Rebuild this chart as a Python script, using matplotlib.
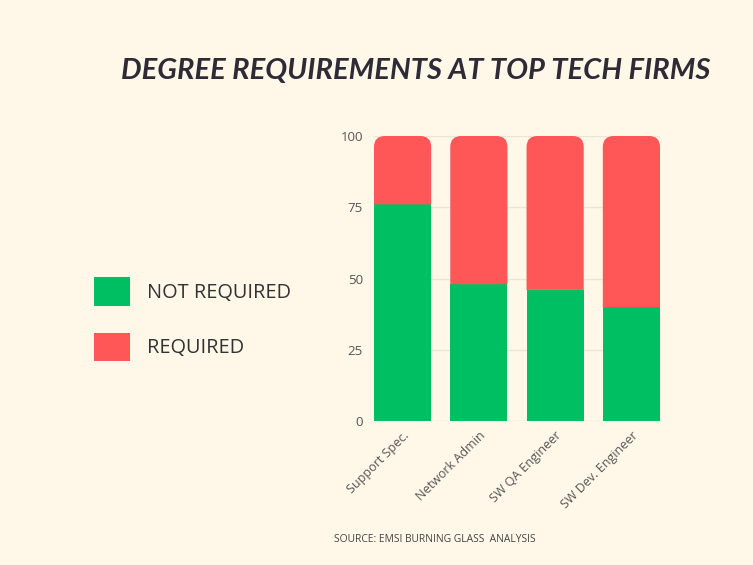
import matplotlib
matplotlib.use("Agg")
import matplotlib.pyplot as plt
from matplotlib.path import Path
from matplotlib.patches import PathPatch, Patch
import numpy as np

categories = ["Support Spec.", "Network Admin", "SW QA Engineer", "SW Dev. Engineer"]
not_required = [76, 48, 46, 40]
required = [24, 52, 54, 60]
yticks = [0, 25, 50, 75, 100]

BG = "#FFF7E8"
GREEN = "#00BF63"
RED = "#FF5757"
GRID = "#EDE5D3"
TXT = "#555555"

W, H = 753, 565
fig = plt.figure(figsize=(W / 100, H / 100), dpi=100, facecolor=BG)
ax = fig.add_axes([374 / W, 1 - 421 / H, (660 - 374) / W, (421 - 136) / H])
ax.set_facecolor(BG)

x = np.arange(len(categories))
bw = 0.75
g = ax.bar(x, not_required, width=bw, color=GREEN, zorder=3)
r = ax.bar(x, required, width=bw, bottom=not_required, color=RED, zorder=3)
ax.set_xlim(-0.375, len(categories) - 0.625)
ax.set_ylim(0, 100)

# rounded tops on red bars (drawn in display space from the bar geometry)
fig.canvas.draw()
rad = 11
for p in r.patches:
    p.set_visible(False)
    x0, y0 = p.get_x(), p.get_y()
    x1, y1 = x0 + p.get_width(), y0 + p.get_height()
    (dx0, dy0), (dx1, dy1) = ax.transData.transform([(x0, y0), (x1, y1)])
    verts = [(dx0, dy0), (dx0, dy1 - rad), (dx0, dy1), (dx0 + rad, dy1),
             (dx1 - rad, dy1), (dx1, dy1), (dx1, dy1 - rad), (dx1, dy0), (dx0, dy0)]
    codes = [Path.MOVETO, Path.LINETO, Path.CURVE3, Path.CURVE3,
             Path.LINETO, Path.CURVE3, Path.CURVE3, Path.LINETO, Path.CLOSEPOLY]
    patch = PathPatch(Path(verts, codes), facecolor=RED, edgecolor="none",
                      transform=None, zorder=3)
    fig.add_artist(patch)

ax.set_yticks(yticks)
ax.set_xticks(x)
ax.set_xticklabels(categories, rotation=45, ha="right", rotation_mode="anchor",
                   fontsize=9, color=TXT, family="Open Sans")
for t in ax.get_yticklabels():
    t.set_fontsize(9.5)
    t.set_color(TXT)
    t.set_family("Open Sans")
ax.tick_params(axis="both", length=0)
ax.tick_params(axis="y", pad=8)
ax.tick_params(axis="x", pad=6)
ax.grid(axis="y", color=GRID, linewidth=1, zorder=0)
for s in ax.spines.values():
    s.set_visible(False)

fig.text(416 / W, 1 - 71 / H, "DEGREE REQUIREMENTS AT TOP TECH FIRMS",
         ha="center", va="center", fontsize=21, fontweight="bold",
         fontstyle="italic", color="#2E2B36", family="Lato")

handles = [Patch(facecolor=GREEN), Patch(facecolor=RED)]
leg = fig.legend(handles=handles, labels=["NOT REQUIRED", "REQUIRED"],
                 loc="center left", bbox_to_anchor=(76 / W, 1 - 319 / H),
                 frameon=False, handlelength=1.8, handleheight=1.84,
                 handletextpad=0.85, labelspacing=1.35,
                 prop={"family": "Open Sans", "size": 14.4})
for t in leg.get_texts():
    t.set_color("#333333")

fig.text(435 / W, 1 - 540 / H, "SOURCE: EMSI BURNING GLASS  ANALYSIS",
         ha="center", va="center", fontsize=7.4, color="#444444", family="Open Sans")

fig.savefig("out.png", dpi=100, facecolor=BG)
